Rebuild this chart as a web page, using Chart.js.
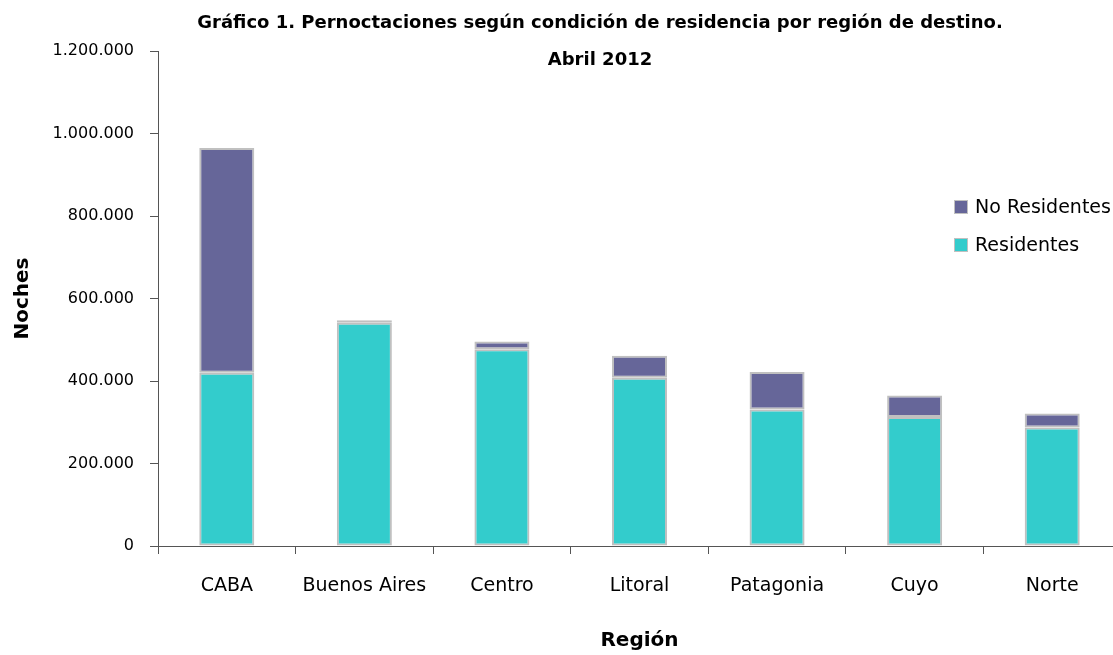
<!DOCTYPE html>
<html>
<head>
<meta charset="utf-8">
<script src="https://cdn.jsdelivr.net/npm/chart.js@4/dist/chart.umd.min.js"></script>
<style>
  html, body { margin: 0; padding: 0; background: #fff; overflow: hidden; }
  #wrap { width: 1121px; height: 655px; }
</style>
</head>
<body>
<div id="wrap"><canvas id="chart" width="1121" height="655"></canvas></div>
<script>
// Datos
const regiones = ['CABA', 'Buenos Aires', 'Centro', 'Litoral', 'Patagonia', 'Cuyo', 'Norte'];
const residentes = [420000, 541000, 477000, 408000, 331000, 313000, 287000];
const noResidentes = [545000, 6000, 19000, 53000, 91000, 52000, 34000];
const tituloLineas = ['Gráfico 1. Pernoctaciones según condición de residencia por región de destino.', 'Abril 2012'];

const fuente = "'DejaVu Sans', Tahoma, sans-serif";
const colorRes = '#33CCCC';
const colorNoRes = '#666699';
const colorBorde = '#C0C0C0';

function formatoMiles(v) {
    return String(v).replace(/\B(?=(\d{3})+(?!\d))/g, '.');
}

// Título y leyenda dibujados a mano (se superponen al área del gráfico)
const extras = {
    id: 'extras',
    afterDraw(chart) {
        const ctx = chart.ctx;
        ctx.save();
        ctx.fillStyle = '#000';
        ctx.font = 'bold 18px ' + fuente;
        ctx.textAlign = 'center';
        ctx.textBaseline = 'middle';
        ctx.fillText(tituloLineas[0], 600, 23);
        ctx.fillText(tituloLineas[1], 600, 60);

        // leyenda
        const items = [
            { label: chart.data.datasets[1].label, color: colorNoRes, y: 207 },
            { label: chart.data.datasets[0].label, color: colorRes, y: 245 }
        ];
        ctx.font = '19px ' + fuente;
        ctx.textAlign = 'left';
        items.forEach(it => {
            ctx.fillStyle = it.color;
            ctx.fillRect(954, it.y - 7, 13, 13);
            ctx.strokeStyle = colorBorde;
            ctx.lineWidth = 1;
            ctx.strokeRect(954.5, it.y - 6.5, 13, 13);
            ctx.fillStyle = '#000';
            ctx.fillText(it.label, 975, it.y + 1);
        });
        ctx.restore();
    }
};

const ctx = document.getElementById('chart').getContext('2d');
const chart = new Chart(ctx, {
    type: 'bar',
    data: {
        labels: regiones,
        datasets: [
            {
                label: 'Residentes',
                data: residentes,
                backgroundColor: colorRes,
                borderColor: colorBorde,
                borderWidth: 2,
                borderSkipped: false
            },
            {
                label: 'No Residentes',
                data: noResidentes,
                backgroundColor: colorNoRes,
                borderColor: colorBorde,
                borderWidth: 2,
                borderSkipped: false
            }
        ]
    },
    options: {
        responsive: false,
        animation: false,
        devicePixelRatio: 1,
        layout: { padding: { top: 51, right: 0, bottom: 0, left: 0 } },
        datasets: { bar: { barPercentage: 0.4, categoryPercentage: 1 } },
        plugins: {
            legend: { display: false },
            title: { display: false },
            tooltip: { enabled: false }
        },
        scales: {
            x: {
                stacked: true,
                offset: true,
                grid: {
                    offset: true,
                    drawOnChartArea: false,
                    tickLength: 8,
                    color: '#555'
                },
                border: { color: '#555', width: 1 },
                ticks: {
                    color: '#000',
                    font: { family: fuente, size: 19 },
                    padding: 21,
                    maxRotation: 0
                },
                title: {
                    display: true,
                    text: 'Región',
                    color: '#000',
                    font: { family: fuente, size: 20, weight: 'bold' },
                    padding: { top: 10, bottom: 2 }
                },
                afterFit(scale) { scale.height = 109; }
            },
            y: {
                stacked: true,
                min: 0,
                max: 1200000,
                grid: {
                    drawOnChartArea: false,
                    tickLength: 8,
                    color: '#555'
                },
                border: { color: '#555', width: 1 },
                ticks: {
                    stepSize: 200000,
                    color: '#000',
                    font: { family: fuente, size: 16 },
                    padding: 16,
                    callback: v => formatoMiles(v)
                },
                title: {
                    display: true,
                    text: 'Noches',
                    color: '#000',
                    font: { family: fuente, size: 20, weight: 'bold' },
                    padding: { top: 11, bottom: 4 }
                },
                afterFit(scale) { scale.width = 158; }
            }
        }
    },
    plugins: [extras]
});
</script>
</body>
</html>
